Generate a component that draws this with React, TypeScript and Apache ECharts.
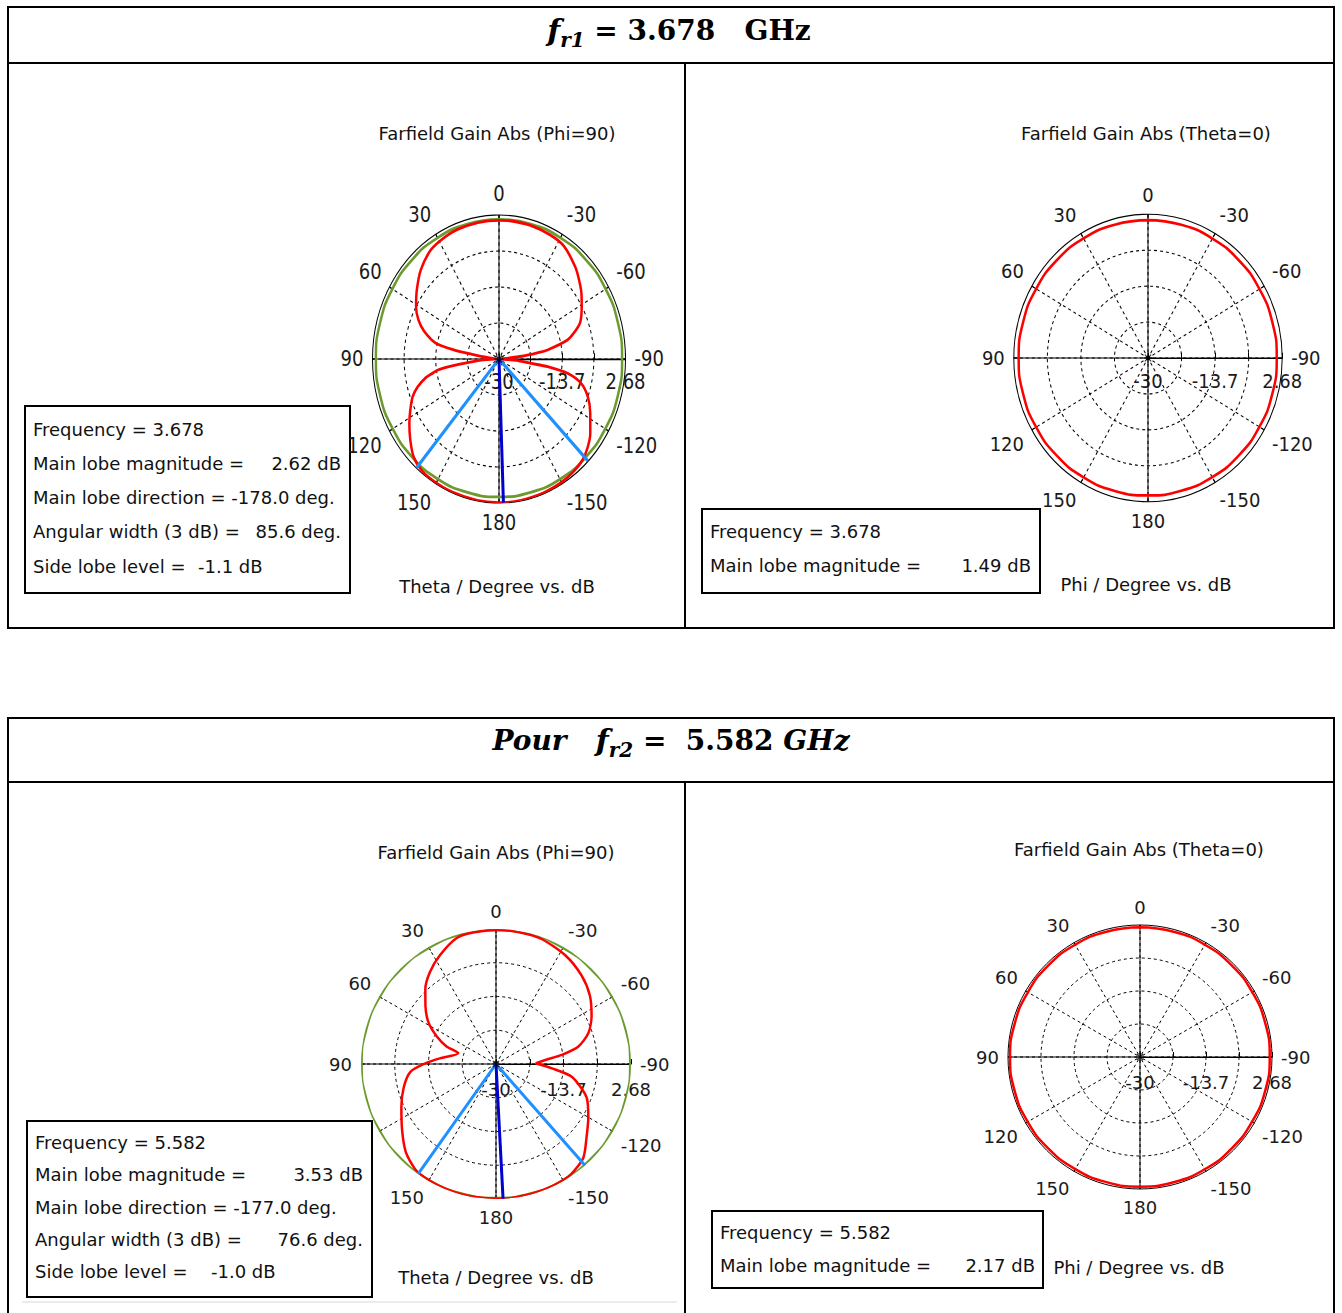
import React, { useEffect, useRef } from "react";
import * as echarts from "echarts";

// ---------- axis / tick data ----------
const ANGLE_TICKS = [0, 30, 60, 90, 120, 150, 180, -150, -120, -90, -60, -30];
const DB_MIN = -30;
const DB_MAX = 2.68;
const RADIAL_LABELS = ["-30", "-13.7", "2.68"];

// ---------- top-left: Farfield Gain Abs (Phi=90), f = 3.678 ----------
const P1_RED_THETA = [-90, -87, -84, -82, -80.7, -76.3, -72, -68.3, -60.7, -55, -49, -43.4, -33.4, -25, -15, -5, 0, 10, 20, 27, 35.3, 44.9, 53.5, 61, 67, 72, 77.6, 80, 81, 83, 87, 90,
  91, 93, 95.5, 97.4, 99, 101, 102.5, 106.7, 111, 116.9, 122.3, 128.8, 135.2, 141.4, 148, 158, 170, 180, -178, -170, -160, -150, -143, -136.8, -131, -125.6, -117.6, -110.5, -104.6, -100.4, -97.9, -96.8, -94, -92, -90];
const P1_RED_DB = [-30, -29, -24, -20, -17.3, -11.8, -9.2, -7.4, -5.5, -4.0, -2.6, -1.3, 0.6, 1.1, 1.4, 1.5, 1.47, 1.45, 1.3, 1.0, 0.4, -1.4, -3.6, -5.5, -7.4, -9.7, -13.3, -18.3, -22.6, -26.2, -29.2, -30,
  -29, -26, -22.5, -17.5, -14, -12.2, -10.7, -8.1, -6.1, -4.3, -2.6, -0.6, 1.3, 2.2, 2.45, 2.55, 2.6, 2.6, 2.62, 2.58, 2.5, 2.3, 2.0, 1.5, 0.4, -1.0, -3.4, -5.5, -8.1, -12.0, -17.3, -21.7, -25.5, -28.5, -30];
const P1_GREEN_THETA = [0, 15, 30, 45, 60, 75, 90, 105, 120, 135, 150, 165, 180, -165, -150, -135, -120, -105, -90, -75, -60, -45, -30, -15];
const P1_GREEN_DB = [1.7, 1.7, 1.75, 1.8, 1.8, 1.8, 1.8, 1.8, 1.7, 1.6, 1.5, 1.35, 1.3, 1.35, 1.5, 1.6, 1.7, 1.8, 1.8, 1.8, 1.8, 1.8, 1.75, 1.7];

// ---------- top-right: Farfield Gain Abs (Theta=0), f = 3.678 ----------
const P2_RED_THETA = [0, 15, 30, 45, 60, 75, 90, 105, 120, 135, 150, 165, 180, -165, -150, -135, -120, -105, -90, -75, -60, -45, -30, -15];
const P2_RED_DB = [1.35, 1.38, 1.4, 1.42, 1.45, 1.48, 1.49, 1.48, 1.45, 1.4, 1.35, 1.3, 1.25, 1.25, 1.28, 1.3, 1.32, 1.35, 1.35, 1.35, 1.35, 1.35, 1.35, 1.35];

// ---------- bottom-left: Farfield Gain Abs (Phi=90), f = 5.582 ----------
const P3_RED_THETA = [-89, -85.3, -82.1, -78, -71.4, -63.3, -54, -44, -32.5, -20, -10, 0, 10, 17.5, 27.3, 35.7, 43.4, 50.6, 58.6, 65, 70.4, 74, 84.2, 89.5, 95.2, 104, 114.6, 125.5, 133.9, 140.1, 144.6, 155, 168, -177, -165, -155, -146, -137, -129, -120, -110, -99.6, -94.5, -89];
const P3_RED_DB = [-20.4, -18, -13.9, -9.6, -6.4, -4.1, -1.9, -0.2, 1.2, 2.2, 2.4, 2.45, 2.3, 1.9, -0.4, -2.6, -5.1, -7.9, -10.9, -14.2, -17.3, -20.5, -16.4, -12.9, -9.2, -7.0, -4.8, -2.1, 0.4, 1.7, 2.35, 2.55, 2.6, 2.65, 2.6, 2.55, 2.3, 1.0, -1.8, -4.2, -6.7, -11.4, -16.4, -20.4];
const P3_GREEN_THETA = [0, 15, 30, 45, 60, 75, 90, 105, 120, 135, 150, 165, 180, -165, -150, -135, -120, -105, -90, -75, -60, -45, -30, -15];
const P3_GREEN_DB = [2.62, 2.6, 2.6, 2.62, 2.62, 2.62, 2.65, 2.62, 2.6, 2.6, 2.58, 2.58, 2.55, 2.58, 2.58, 2.6, 2.6, 2.62, 2.6, 2.6, 2.6, 2.6, 2.6, 2.62];

// ---------- bottom-right: Farfield Gain Abs (Theta=0), f = 5.582 ----------
const P4_RED_THETA = [0, 15, 30, 45, 60, 75, 90, 105, 120, 135, 150, 165, 180, -165, -150, -135, -120, -105, -90, -75, -60, -45, -30, -15];
const P4_RED_DB = [2.1, 2.1, 2.1, 2.08, 2.06, 2.1, 2.17, 2.15, 2.1, 2.05, 2.05, 2.08, 2.1, 2.1, 2.08, 2.05, 2.05, 2.1, 2.12, 2.12, 2.1, 2.1, 2.1, 2.1];

// ---------- summary values ----------
const FREQS = ["3.678", "5.582"];
const MAIN_MAG_THETA = [2.62, 3.53];
const MAIN_DIR = [-178.0, -177.0];
const BEAM_WIDTH = [85.6, 76.6];
const SIDE_LOBE = [-1.1, -1.0];
const MAIN_MAG_PHI = [1.49, 2.17];

const FONT = '"DejaVu Sans", sans-serif';
const SERIF = '"DejaVu Serif", serif';
const R_SPAN = DB_MAX - DB_MIN;
const RED = "#ff0000";
const GREEN = "#6b9a2e";
const LIGHT_BLUE = "#1e90ff";
const DARK_BLUE = "#0000d0";
const STAR = "path://M5,0L5,10M0,5L10,5M1.5,1.5L8.5,8.5M1.5,8.5L8.5,1.5";

const toAngle = (theta: number) => (((theta + 90) % 360) + 360) % 360;
const toRad = (db: number) => Math.min(db, DB_MAX) - DB_MIN;

function angleLabel(v: number) {
  let t = Math.round(v - 90);
  if (t > 180) t -= 360;
  if (t <= -180) t += 360;
  const found = ANGLE_TICKS.find((a) => a === t);
  return found === undefined ? "" : String(found);
}
function radiusLabel(v: number) {
  const k = Math.round(v / (R_SPAN / 4));
  if (k === 0) return RADIAL_LABELS[0];
  if (k === 2) return RADIAL_LABELS[1];
  if (k === 4) return RADIAL_LABELS[2];
  return "";
}

type Curve = { theta: number[]; db: number[]; color: string; width: number; smooth: number };
type Beam = { theta: number; db: number; color: string; width: number };

function lineSeries(idx: number, data: number[][], color: string, width: number, smooth = 0, z = 5) {
  return {
    type: "line",
    coordinateSystem: "polar",
    polarIndex: idx,
    data,
    showSymbol: false,
    symbol: "none",
    smooth,
    silent: true,
    clip: false,
    z,
    lineStyle: { color, width },
  };
}

function buildPolar(idx: number, center: number[], radius: number, curves: Curve[], beams: Beam[], labelDrop: number, outerLine = true) {
  const polar = { center, radius };
  const angleAxis = {
    polarIndex: idx,
    type: "value",
    min: 0,
    max: 360,
    interval: 30,
    startAngle: 0,
    clockwise: false,
    axisLine: { show: outerLine, lineStyle: { color: "#000", width: 1 } },
    axisTick: { show: true, inside: true, length: 4, lineStyle: { color: "#000" } },
    axisLabel: { formatter: angleLabel, margin: 9, fontSize: 18, fontFamily: FONT, color: "#1a1a1a" },
    splitLine: { show: true, lineStyle: { color: "#000", width: 1, type: [3, 3] } },
  };
  const radiusAxis = {
    polarIndex: idx,
    type: "value",
    min: 0,
    max: R_SPAN,
    interval: R_SPAN / 4,
    axisLine: { show: true, lineStyle: { color: "#000", width: 1 } },
    axisTick: { show: true, length: 5, lineStyle: { color: "#000" } },
    axisLabel: { formatter: radiusLabel, verticalAlign: "top", margin: -labelDrop, fontSize: 18, fontFamily: FONT, color: "#1a1a1a" },
    // the outermost ring is drawn by the solid angle-axis line, so its dashed copy is transparent
    splitLine: { show: true, lineStyle: { color: ["#000", "#000", "#000", "#000", "rgba(0,0,0,0)"], width: 1, type: [3, 3] } },
  };
  const series: any[] = [];
  series.push(lineSeries(idx, [[R_SPAN, toAngle(90)], [R_SPAN, toAngle(-90)]], "#000", 1, 0, 3));
  series.push(lineSeries(idx, [[R_SPAN, toAngle(0)], [R_SPAN, toAngle(180)]], "#000", 1, 0, 3));
  curves.forEach((c) => {
    const data = c.theta.map((t, i) => [toRad(c.db[i]), toAngle(t)]);
    data.push(data[0]);
    series.push(lineSeries(idx, data, c.color, c.width, c.smooth));
  });
  beams.forEach((b) => {
    series.push(lineSeries(idx, [[0, toAngle(b.theta)], [toRad(b.db), toAngle(b.theta)]], b.color, b.width, 0, 6));
  });
  series.push({
    type: "scatter",
    coordinateSystem: "polar",
    polarIndex: idx,
    data: [[0, 0]],
    symbol: STAR,
    symbolSize: 9,
    silent: true,
    z: 7,
    itemStyle: { color: "rgba(0,0,0,0)", borderColor: "#000", borderWidth: 1.2 },
  });
  return { polar, angleAxis, radiusAxis, series };
}

function beamsFor(k: number): Beam[] {
  return [
    { theta: MAIN_DIR[k] - BEAM_WIDTH[k] / 2, db: MAIN_MAG_THETA[k], color: LIGHT_BLUE, width: 3 },
    { theta: MAIN_DIR[k] + BEAM_WIDTH[k] / 2, db: MAIN_MAG_THETA[k], color: LIGHT_BLUE, width: 3 },
    { theta: MAIN_DIR[k], db: MAIN_MAG_THETA[k], color: DARK_BLUE, width: 3 },
  ];
}

function txt(text: string, x: number, y: number, align = "left", size = 18, extra: any = {}) {
  return {
    type: "text",
    x,
    y,
    z: 120,
    style: { text, fill: "#111", fontSize: size, fontFamily: FONT, align, verticalAlign: "middle", ...extra },
  };
}
function hline(x1: number, x2: number, y: number, w = 2, color = "#000") {
  return { type: "line", z: 110, shape: { x1, y1: y, x2, y2: y }, style: { stroke: color, lineWidth: w } };
}
function vline(x: number, y1: number, y2: number, w = 2) {
  return { type: "line", z: 110, shape: { x1: x, y1, x2: x, y2 }, style: { stroke: "#000", lineWidth: w } };
}
function box(x: number, y: number, w: number, h: number) {
  return { type: "rect", z: 115, shape: { x, y, width: w, height: h }, style: { fill: "#fff", stroke: "#000", lineWidth: 2 } };
}

function mainOption() {
  const p3 = buildPolar(0, [496, 1064], 135,
    [
      { theta: P3_GREEN_THETA, db: P3_GREEN_DB, color: GREEN, width: 3.5, smooth: 0.5 },
      { theta: P3_RED_THETA, db: P3_RED_DB, color: RED, width: 2.5, smooth: 0.25 },
    ], beamsFor(1), 16, false);
  const p4 = buildPolar(1, [1140, 1057], 132,
    [{ theta: P4_RED_THETA, db: P4_RED_DB, color: RED, width: 2.5, smooth: 0.5 }], [], 16);

  const titleRich = {
    f: { fontSize: 30, fontFamily: SERIF, fontWeight: "bold", fontStyle: "italic", lineHeight: 40, verticalAlign: "middle", fill: "#000" },
    s: { fontSize: 20, fontFamily: SERIF, fontWeight: "bold", fontStyle: "italic", lineHeight: 24, verticalAlign: "bottom", fill: "#000" },
    n: { fontSize: 28, fontFamily: SERIF, fontWeight: "bold", lineHeight: 40, verticalAlign: "middle", fill: "#000" },
    i: { fontSize: 28, fontFamily: SERIF, fontWeight: "bold", fontStyle: "italic", lineHeight: 40, verticalAlign: "middle", fill: "#000" },
  };

  const graphic: any[] = [
    // table 1
    hline(7, 1335, 7), hline(7, 1335, 63), hline(7, 1335, 628), vline(8, 7, 628), vline(1334, 7, 628), vline(685, 63, 628),
    // table 2
    hline(7, 1335, 718), hline(7, 1335, 782), vline(8, 718, 1313), vline(1334, 718, 1313), vline(685, 782, 1313),
    hline(22, 677, 1302, 1, "#d8d8d8"),
    {
      type: "text", x: 679, y: 30, z: 120,
      style: { text: "{f|f}{s|r1}{n| = 3.678   GHz}", rich: titleRich, align: "center", verticalAlign: "middle" },
    },
    {
      type: "text", x: 671, y: 740, z: 120,
      style: { text: "{i|Pour}{n|   }{f|f}{s|r2}{n| =  5.582 }{i|GHz}", rich: titleRich, align: "center", verticalAlign: "middle" },
    },
    // plot titles & captions
    txt("Farfield Gain Abs (Phi=90)", 497, 133, "center"),
    txt("Farfield Gain Abs (Theta=0)", 1146, 133, "center"),
    txt("Farfield Gain Abs (Phi=90)", 496, 852, "center"),
    txt("Farfield Gain Abs (Theta=0)", 1139, 849, "center"),
    txt("Theta / Degree vs. dB", 497, 586, "center"),
    txt("Phi / Degree vs. dB", 1146, 584, "center"),
    txt("Theta / Degree vs. dB", 496, 1277, "center"),
    txt("Phi / Degree vs. dB", 1139, 1267, "center"),
    // box 1
    box(25, 406, 325, 187),
    txt("Frequency = " + FREQS[0], 33, 429),
    txt("Main lobe magnitude =", 33, 463), txt(MAIN_MAG_THETA[0].toFixed(2) + " dB", 341, 463, "right"),
    txt("Main lobe direction = " + MAIN_DIR[0].toFixed(1) + " deg.", 33, 497),
    txt("Angular width (3 dB) =", 33, 531), txt(BEAM_WIDTH[0].toFixed(1) + " deg.", 341, 531, "right"),
    txt("Side lobe level =", 33, 566), txt(SIDE_LOBE[0].toFixed(1) + " dB", 198, 566),
    // box 2
    box(702, 509, 338, 84),
    txt("Frequency = " + FREQS[0], 710, 531),
    txt("Main lobe magnitude =", 710, 565), txt(MAIN_MAG_PHI[0].toFixed(2) + " dB", 1031, 565, "right"),
    // box 3
    box(27, 1121, 345, 176),
    txt("Frequency = " + FREQS[1], 35, 1142),
    txt("Main lobe magnitude =", 35, 1174), txt(MAIN_MAG_THETA[1].toFixed(2) + " dB", 363, 1174, "right"),
    txt("Main lobe direction = " + MAIN_DIR[1].toFixed(1) + " deg.", 35, 1207),
    txt("Angular width (3 dB) =", 35, 1239), txt(BEAM_WIDTH[1].toFixed(1) + " deg.", 363, 1239, "right"),
    txt("Side lobe level =", 35, 1271), txt(SIDE_LOBE[1].toFixed(1) + " dB", 211, 1271),
    // box 4
    box(712, 1211, 331, 77),
    txt("Frequency = " + FREQS[1], 720, 1232),
    txt("Main lobe magnitude =", 720, 1265), txt(MAIN_MAG_PHI[1].toFixed(2) + " dB", 1035, 1265, "right"),
  ];

  return {
    animation: false,
    backgroundColor: "#fff",
    polar: [p3.polar, p4.polar],
    angleAxis: [p3.angleAxis, p4.angleAxis],
    radiusAxis: [p3.radiusAxis, p4.radiusAxis],
    series: [...p3.series, ...p4.series],
    graphic,
  };
}

function overlayOption(part: any) {
  return {
    animation: false,
    polar: [part.polar],
    angleAxis: [part.angleAxis],
    radiusAxis: [part.radiusAxis],
    series: part.series,
  };
}

export default function App() {
  const mainRef = useRef<HTMLDivElement>(null);
  const ov1Ref = useRef<HTMLDivElement>(null);
  const ov2Ref = useRef<HTMLDivElement>(null);

  useEffect(() => {
    const main = echarts.init(mainRef.current!, null, { renderer: "svg" });
    main.setOption(mainOption() as any);
    const p1 = buildPolar(0, [180, 180], 126.5,
      [
        { theta: P1_GREEN_THETA, db: P1_GREEN_DB, color: GREEN, width: 2.5, smooth: 0.5 },
        { theta: P1_RED_THETA, db: P1_RED_DB, color: RED, width: 2.5, smooth: 0.25 },
      ], beamsFor(0), 11);
    const o1 = echarts.init(ov1Ref.current!, null, { renderer: "svg" });
    o1.setOption(overlayOption(p1) as any);
    const p2 = buildPolar(0, [180, 180], 134.2,
      [{ theta: P2_RED_THETA, db: P2_RED_DB, color: RED, width: 2.5, smooth: 0.5 }], [], 13);
    const o2 = echarts.init(ov2Ref.current!, null, { renderer: "svg" });
    o2.setOption(overlayOption(p2) as any);
    return () => {
      main.dispose();
      o1.dispose();
      o2.dispose();
    };
  }, []);

  return (
    <div style={{ position: "absolute", left: 0, top: 0, width: 1342, height: 1313, background: "#fff", overflow: "hidden" }}>
      <div ref={mainRef} style={{ position: "absolute", left: 0, top: 0, width: 1342, height: 1313 }} />
      <div ref={ov1Ref} style={{ position: "absolute", left: 318.5, top: 179, width: 360, height: 360, transform: "scaleY(1.138)", transformOrigin: "50% 50%" }} />
      <div ref={ov2Ref} style={{ position: "absolute", left: 967.5, top: 178, width: 360, height: 360, transform: "scaleY(1.071)", transformOrigin: "50% 50%" }} />
    </div>
  );
}
